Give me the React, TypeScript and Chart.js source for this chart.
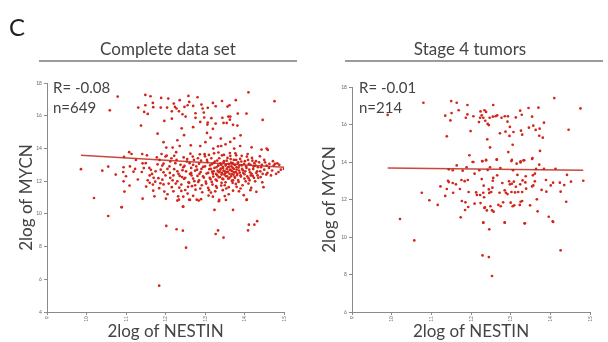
import React, { useEffect, useRef } from "react";
import { Chart, registerables } from "chart.js";
Chart.register(...registerables);

const FONT = "Lato, 'Noto Sans', sans-serif";

// ---------- Data ----------
const xAxisTicks = [9, 10, 11, 12, 13, 14, 15];
const completeYTicks = [4, 6, 8, 10, 12, 14, 16, 18];
const stage4YTicks = [6, 8, 10, 12, 14, 16, 18];

const panelTitles = ["Complete data set", "Stage 4 tumors"];
const statR = ["R= -0.08", "R= -0.01"];
const statN = ["n=649", "n=214"];

// regression line end points [NESTIN, MYCN]
const completeFit: [number, number][] = [[9.86, 13.58], [15.0, 12.85]];
const stage4Fit: [number, number][] = [[9.9, 13.68], [14.83, 13.56]];

// complete data set: [2log NESTIN, 2log MYCN]
const completeSet: [number, number][] = [
  [10.79, 17.17], [10.59, 16.33], [11.49, 17.27], [11.62, 17.19], [11.89, 17.09], [12.07, 17.05], [12.36, 16.95],
  [12.58, 17.21], [12.81, 17.13], [11.49, 16.64], [11.68, 16.78], [11.31, 16.5], [11.46, 16.23], [11.55, 16.11],
  [11.69, 16.52], [11.88, 16.5], [12.04, 16.5], [12.21, 16.74], [12.24, 16.54], [12.28, 16.44], [12.16, 16.27],
  [12.34, 16.27], [12.43, 16.09], [12.48, 16.54], [12.56, 16.64], [12.6, 16.84], [12.7, 16.6], [12.91, 16.68],
  [12.94, 16.44], [13.07, 16.48], [13.2, 16.78], [13.27, 16.58], [13.43, 16.9], [13.57, 16.56], [13.62, 16.64],
  [13.78, 16.95], [14.1, 17.43], [14.76, 16.89], [13.83, 16.13], [14.05, 16.13], [12.76, 16.15], [12.97, 16.19],
  [11.97, 15.68], [12.16, 15.82], [12.51, 15.95], [12.76, 15.87], [12.88, 15.62], [12.98, 15.89], [13.07, 15.58],
  [13.06, 15.46], [13.16, 15.85], [13.27, 15.52], [13.44, 15.87], [13.47, 15.56], [13.59, 15.95], [13.64, 15.95],
  [13.55, 15.56], [13.63, 15.76], [13.71, 15.44], [13.82, 15.4], [14.46, 15.74], [11.38, 15.4], [12.41, 15.23],
  [12.47, 14.81], [13.05, 14.95], [13.14, 14.66], [13.74, 14.62], [11.95, 14.38], [12.02, 14.05], [12.18, 14.05],
  [12.36, 14.15], [12.64, 14.19], [12.88, 14.15], [13.01, 14.38], [13.21, 13.99], [13.33, 14.13], [13.41, 14.15],
  [13.52, 14.25], [13.64, 14.4], [13.74, 13.99], [13.89, 14.15], [14.18, 14.07], [14.43, 13.93], [14.56, 13.99],
  [9.86, 12.73], [10.19, 10.97], [10.4, 12.64], [10.55, 12.89], [10.74, 12.4], [10.89, 10.42], [10.93, 12.56],
  [10.94, 12.85], [10.94, 11.99], [10.96, 11.36], [10.95, 13.48], [11.08, 13.77], [11.14, 13.66], [11.09, 11.73],
  [11.19, 12.58], [11.23, 12.75], [11.42, 13.09], [11.4, 12.56], [11.42, 10.93], [11.41, 13.66], [11.51, 11.67],
  [11.53, 13.58], [11.59, 12.81], [11.63, 12.69], [11.66, 12.44], [11.68, 11.79], [11.69, 11.42], [11.72, 11.07],
  [11.74, 11.97], [11.8, 13.03], [11.82, 12.18], [11.84, 11.57], [11.87, 11.87], [11.9, 13.66], [11.92, 12.09],
  [11.95, 13.07], [11.95, 12.54], [11.97, 11.36], [12.01, 10.93], [12.03, 13.56], [12.08, 11.85], [12.11, 12.5],
  [12.12, 12.2], [12.16, 11.63], [12.2, 11.38], [12.22, 12.73], [12.27, 13.77], [12.28, 13.3], [12.3, 11.99],
  [12.32, 11.07], [12.34, 10.87], [12.36, 12.32], [12.4, 11.79], [12.43, 12.67], [12.44, 10.44], [12.47, 12.14],
  [12.48, 12.93], [12.5, 11.46], [12.54, 13.2], [12.56, 11.24], [12.58, 11.93], [12.6, 10.87], [12.62, 12.44],
  [12.63, 13.68], [12.65, 12.81], [12.67, 11.69], [12.7, 12.16], [12.72, 13.3], [12.75, 12.64], [12.76, 11.48],
  [12.79, 10.87], [12.81, 12.32], [12.83, 11.95], [12.85, 13.07], [12.87, 13.64], [12.89, 12.56], [12.92, 11.75],
  [12.93, 11.32], [12.95, 12.87], [12.97, 12.22], [13.0, 13.52], [13.02, 11.97], [13.04, 12.46], [13.06, 13.17],
  [13.08, 11.59], [13.09, 11.12], [13.11, 12.73], [13.13, 12.97], [13.14, 12.12], [13.16, 13.4], [13.18, 12.58],
  [13.19, 11.79], [13.21, 12.28], [13.23, 13.11], [13.24, 12.81], [13.26, 11.38], [13.28, 12.44], [13.3, 12.03],
  [13.31, 13.26], [13.32, 12.64], [13.34, 12.95], [13.35, 12.24], [13.36, 10.85], [13.37, 12.56], [13.39, 13.09],
  [13.4, 12.77], [13.41, 11.73], [13.42, 12.4], [13.43, 13.58], [13.45, 12.87], [13.46, 12.12], [13.47, 12.64],
  [13.48, 13.22], [13.5, 11.09], [13.51, 12.48], [13.52, 11.93], [13.53, 13.01], [13.55, 12.75], [13.56, 12.3],
  [13.57, 13.42], [13.58, 12.58], [13.6, 11.63], [13.61, 12.89], [13.62, 12.2], [13.63, 13.72], [13.65, 12.67],
  [13.66, 13.13], [13.68, 12.42], [13.68, 12.03], [13.7, 12.81], [13.71, 11.42], [13.73, 13.3], [13.74, 12.54],
  [13.75, 12.26], [13.76, 12.99], [13.78, 11.83], [13.79, 13.58], [13.8, 12.71], [13.81, 12.36], [13.83, 13.11],
  [13.84, 12.07], [13.85, 12.83], [13.86, 11.38], [13.88, 12.52], [13.89, 13.36], [13.91, 12.28], [13.93, 12.97],
  [13.95, 11.75], [13.96, 12.66], [13.98, 11.14], [14.0, 12.42], [14.01, 13.22], [14.03, 11.99], [14.05, 12.81],
  [14.06, 10.87], [14.08, 13.66], [14.1, 12.18], [14.11, 13.05], [14.14, 12.54], [14.17, 11.59], [14.19, 13.42],
  [14.21, 12.32], [14.23, 12.89], [14.27, 11.99], [14.29, 13.22], [14.32, 12.6], [14.35, 12.2], [14.39, 13.52],
  [14.42, 12.85], [14.45, 11.93], [14.48, 11.63], [14.5, 13.3], [14.55, 12.4], [14.59, 13.91], [14.62, 12.81],
  [14.72, 13.22], [14.77, 13.05], [14.83, 13.09], [14.86, 12.56], [15.0, 12.75],
  [10.55, 9.87], [10.89, 10.4], [11.84, 5.61], [12.02, 9.26], [12.28, 9.06], [12.44, 8.97], [12.52, 7.93],
  [12.45, 10.44], [12.3, 10.81], [12.62, 10.85], [12.84, 10.81], [13.24, 10.24], [13.27, 8.77], [13.33, 8.99],
  [13.35, 10.77], [13.47, 8.55], [13.53, 10.85], [13.71, 10.24], [14.05, 10.85], [14.09, 8.99], [14.11, 9.34],
  [14.25, 9.34], [14.32, 9.55],
  [12.95, 12.3], [13.0, 12.9], [13.05, 13.3], [13.08, 12.5], [13.12, 12.2], [13.15, 12.75], [13.18, 13.05],
  [13.2, 12.45], [13.22, 12.6], [13.25, 13.2], [13.27, 12.1], [13.29, 12.85], [13.31, 12.35], [13.33, 12.95],
  [13.35, 12.55], [13.36, 13.4], [13.38, 12.25], [13.39, 12.7], [13.41, 13.0], [13.43, 12.5], [13.44, 12.15],
  [13.46, 12.8], [13.47, 13.15], [13.49, 12.4], [13.5, 12.6], [13.52, 12.95], [13.53, 12.3], [13.55, 13.25],
  [13.56, 12.55], [13.58, 12.85], [13.59, 12.15], [13.6, 13.05], [13.62, 12.45], [13.63, 12.7], [13.65, 13.35],
  [13.66, 12.3], [13.67, 12.9], [13.69, 12.6], [13.7, 13.1], [13.72, 12.4], [13.73, 12.75], [13.75, 13.0],
  [13.76, 12.2], [13.78, 12.55], [13.79, 13.3], [13.8, 12.85], [13.82, 12.45], [13.84, 13.15], [13.86, 12.65],
  [13.87, 12.95], [13.9, 12.35], [13.92, 13.2], [13.94, 12.75], [13.97, 12.5], [13.99, 13.05], [14.02, 12.6],
  [14.04, 12.9], [14.07, 12.3], [14.09, 13.3], [14.12, 12.7], [14.15, 13.0], [14.18, 12.45], [14.22, 12.75],
  [14.25, 13.1], [14.3, 12.5], [14.34, 12.85], [14.4, 12.6], [14.44, 13.0], [14.5, 12.7], [14.56, 12.95],
  [12.1, 12.9], [12.2, 12.35], [12.25, 13.1], [12.35, 11.6], [12.45, 12.85], [12.5, 12.2], [12.55, 13.35],
  [12.6, 11.9], [12.65, 12.5], [12.7, 13.0], [12.75, 11.75], [12.8, 12.7], [12.85, 12.05], [12.9, 13.25],
  [11.7, 12.2], [11.85, 13.3], [11.95, 11.8], [12.0, 12.35], [12.05, 11.2], [12.15, 13.4], [12.3, 12.6],
  [12.4, 11.4], [11.6, 11.9], [11.5, 13.1], [11.3, 12.1], [11.1, 12.9], [13.1, 11.45], [13.3, 11.6],
  [13.5, 11.75], [13.7, 11.9], [13.9, 11.55], [14.1, 11.85], [14.3, 11.35], [13.2, 11.05], [13.6, 11.2],
  [12.9, 10.9], [13.4, 14.6], [12.3, 14.5], [11.8, 14.9], [13.9, 14.8], [12.7, 15.3], [13.2, 15.2],
  [12.05, 12.75], [12.12, 13.2], [12.18, 12.05], [12.22, 13.55], [12.26, 11.85], [12.33, 12.45], [12.38, 13.0],
  [12.42, 12.25], [12.46, 13.45], [12.52, 12.6], [12.57, 11.65], [12.61, 13.1], [12.66, 12.35], [12.69, 13.5],
  [12.73, 12.0], [12.78, 12.9], [12.82, 13.4], [12.86, 12.45], [12.88, 11.55], [12.91, 12.75], [12.99, 13.65],
  [13.03, 11.85], [13.1, 13.6], [13.17, 11.95], [13.23, 13.7], [13.28, 11.7], [13.34, 13.75], [13.42, 11.9],
  [13.48, 13.6], [13.54, 11.55], [13.64, 13.55], [13.71, 12.05], [13.77, 13.7], [13.85, 11.95], [13.93, 13.55],
  [14.0, 12.15], [14.06, 13.5], [14.13, 12.05], [14.16, 12.35], [14.2, 13.25], [14.24, 12.2], [14.28, 12.95],
  [14.33, 12.35], [14.37, 13.15], [14.41, 12.25], [14.46, 12.45], [14.52, 13.15], [14.58, 12.5], [14.63, 13.05],
  [14.67, 12.35], [14.7, 12.65], [14.74, 12.95], [14.8, 12.45], [14.88, 13.0], [14.92, 12.7], [11.75, 12.6],
  [11.78, 13.45], [11.88, 12.7], [11.92, 12.95], [12.0, 13.5], [11.6, 12.35], [11.45, 12.8], [11.55, 12.05],
  [11.25, 13.3], [11.0, 12.3], [13.15, 11.3], [13.45, 11.45], [13.8, 11.65], [14.15, 11.45], [12.7, 11.1],
  [12.45, 11.05],
];

// stage 4 tumors: [2log NESTIN, 2log MYCN]
const stage4Set: [number, number][] = [
  [10.8, 17.16], [9.9, 16.51], [11.5, 17.25], [11.64, 17.16], [11.35, 16.47], [11.51, 16.61], [11.69, 16.76],
  [11.48, 16.22], [11.91, 17.04], [11.91, 16.54], [11.87, 16.36], [12.06, 16.44], [12.24, 16.7], [12.34, 16.76],
  [12.38, 16.67], [12.27, 16.49], [12.23, 16.36], [12.31, 16.36], [12.2, 16.13], [12.36, 16.2], [12.42, 16.03],
  [12.45, 15.97], [12.47, 16.36], [12.56, 17.04], [12.55, 16.42], [12.62, 16.44], [12.66, 16.49], [12.77, 16.36],
  [12.85, 16.44], [12.93, 16.44], [12.92, 16.15], [13.13, 16.38], [13.28, 16.52], [13.24, 16.74], [13.45, 16.88],
  [13.7, 16.9], [14.1, 17.41], [14.76, 16.86], [13.54, 16.42], [12.98, 15.87], [12.87, 15.62], [13.07, 15.6],
  [12.73, 15.53], [12.97, 15.39], [13.26, 15.67], [13.29, 15.46], [13.46, 15.83], [13.57, 15.94], [13.63, 15.71],
  [13.73, 15.78], [13.84, 16.1], [13.72, 15.4], [13.81, 15.3], [14.46, 15.72], [11.39, 15.37], [11.99, 15.65],
  [12.41, 15.21], [12.48, 14.78], [13.05, 14.92], [12.94, 14.53], [13.74, 14.59], [11.96, 14.36], [12.06, 14.0],
  [12.29, 14.04], [12.38, 14.11], [12.65, 14.14], [13.03, 14.11], [13.25, 14.04], [13.34, 14.09], [13.55, 14.21],
  [10.21, 10.96], [10.76, 12.36], [10.95, 11.96], [11.16, 11.71], [11.23, 12.7], [11.35, 12.19], [11.39, 12.56],
  [11.42, 13.0], [11.44, 12.93], [11.44, 13.61], [11.54, 13.56], [11.54, 12.88], [11.55, 12.36], [11.62, 12.81],
  [11.64, 13.82], [11.72, 12.56], [11.76, 13.04], [11.77, 11.92], [11.79, 13.54], [11.84, 12.98], [11.86, 11.85],
  [11.85, 11.44], [11.89, 13.72], [11.92, 13.04], [11.94, 12.4], [11.93, 11.6], [11.74, 11.05], [12.04, 14.0],
  [12.09, 13.38], [12.13, 12.38], [12.15, 12.24], [12.09, 11.78], [12.21, 13.56], [12.23, 12.24], [12.24, 11.81],
  [12.27, 13.09], [12.28, 14.05], [12.31, 12.36], [12.32, 12.74], [12.33, 12.12], [12.34, 11.55], [12.35, 11.58],
  [12.31, 10.78], [12.38, 14.09], [12.4, 11.42], [12.42, 13.58], [12.45, 12.54], [12.46, 12.35], [12.48, 13.72],
  [12.49, 11.64], [12.51, 12.4], [12.53, 11.42], [12.54, 12.63], [12.55, 13.0], [12.56, 13.15], [12.57, 11.35],
  [12.65, 14.12], [12.66, 13.29], [12.69, 11.71], [12.72, 12.36], [12.74, 13.68], [12.75, 11.64], [12.79, 12.88],
  [12.81, 11.85], [12.85, 12.49], [12.85, 10.78], [12.88, 12.36], [12.92, 12.29], [12.96, 12.97], [12.98, 12.81],
  [13.0, 11.83], [13.02, 14.05], [13.02, 12.4], [13.03, 12.84], [13.05, 11.64], [13.06, 13.56], [13.08, 12.95],
  [13.09, 11.69], [13.11, 12.38], [13.13, 12.68], [13.15, 13.91], [13.17, 13.31], [13.19, 12.4], [13.23, 11.71],
  [13.24, 12.81], [13.25, 13.98], [13.25, 11.88], [13.29, 11.92], [13.29, 12.4], [13.3, 13.02], [13.32, 14.09],
  [13.35, 10.73], [13.37, 12.91], [13.38, 13.24], [13.39, 12.58], [13.49, 11.69], [13.54, 14.16], [13.54, 12.7],
  [13.56, 13.29], [13.57, 12.75], [13.61, 13.38], [13.61, 12.97], [13.64, 13.63], [13.66, 12.01], [13.68, 11.37],
  [13.72, 13.86], [13.78, 12.51], [13.84, 13.63], [13.89, 13.04], [13.9, 12.42], [13.96, 11.08], [14.01, 12.75],
  [14.06, 10.84], [14.07, 12.9], [14.13, 13.64], [14.24, 12.9], [14.26, 12.42], [14.35, 12.77], [14.4, 11.88],
  [14.42, 13.31], [14.52, 12.95], [14.83, 13.0],
  [10.57, 9.82], [12.29, 9.02], [12.45, 8.93], [12.53, 7.92], [12.46, 10.41], [12.31, 10.76], [12.85, 10.76],
  [13.36, 10.73], [14.07, 10.8], [14.26, 9.29],
];

// ---------- Chart ----------
const POINT_COLOR = "#d2261a";
const FIT_COLOR = "rgba(192, 40, 28, 0.85)";
const AXIS_COLOR = "#8a8a8a";
const TEXT_COLOR = "#444444";

type PanelCfg = {
  points: [number, number][];
  fit: [number, number][];
  yTicks: number[];
  yAxisWidth: number;
  yTitlePad: number;
  padRight: number;
  padTop: number;
  title: string;
  titleX: number;
  lineX1: number;
  lineX2: number;
  r: string;
  n: string;
  rX: number;
  letter?: string;
};

function makeDecor(cfg: PanelCfg) {
  return {
    id: "panelDecor",
    afterDraw(chart: any) {
      const ctx = chart.ctx;
      ctx.save();
      if (cfg.letter) {
        ctx.font = `24px ${FONT}`;
        ctx.fillStyle = "#222";
        ctx.textAlign = "left";
        ctx.textBaseline = "alphabetic";
        ctx.fillText(cfg.letter, 9, 36);
      }
      ctx.font = `17px ${FONT}`;
      ctx.fillStyle = TEXT_COLOR;
      ctx.textAlign = "center";
      ctx.textBaseline = "alphabetic";
      ctx.fillText(cfg.title, cfg.titleX, 55);
      ctx.strokeStyle = "#7a7a7a";
      ctx.lineWidth = 1.5;
      ctx.beginPath();
      ctx.moveTo(cfg.lineX1, 61);
      ctx.lineTo(cfg.lineX2, 61);
      ctx.stroke();
      ctx.font = `15px ${FONT}`;
      ctx.textAlign = "left";
      ctx.fillText(cfg.r, cfg.rX, 93);
      ctx.fillText(cfg.n, cfg.rX, 113);
      ctx.restore();
    },
  };
}

function Panel({ cfg, left }: { cfg: PanelCfg; left: number }) {
  const ref = useRef<HTMLCanvasElement>(null);
  useEffect(() => {
    if (!ref.current) return;
    const yMin = cfg.yTicks[0];
    const yMax = cfg.yTicks[cfg.yTicks.length - 1];
    const chart = new Chart(ref.current, {
      type: "scatter",
      data: {
        datasets: [
          {
            data: cfg.points.map(([x, y]) => ({ x, y })),
            backgroundColor: POINT_COLOR,
            borderWidth: 0,
            pointRadius: 1.35,
            order: 2,
          },
          {
            type: "line",
            data: cfg.fit.map(([x, y]) => ({ x, y })),
            borderColor: FIT_COLOR,
            borderWidth: 1.5,
            pointRadius: 0,
            showLine: true,
            order: 1,
          } as any,
        ],
      },
      options: {
        responsive: false,
        animation: false,
        devicePixelRatio: 1,
        layout: { padding: { top: cfg.padTop, right: cfg.padRight, left: 0, bottom: 0 } },
        plugins: { legend: { display: false }, tooltip: { enabled: false }, title: { display: false } },
        scales: {
          x: {
            type: "linear",
            min: xAxisTicks[0],
            max: xAxisTicks[xAxisTicks.length - 1],
            afterBuildTicks: (s: any) => {
              s.ticks = xAxisTicks.map((v) => ({ value: v }));
            },
            afterFit: (s: any) => {
              s.height = 30;
            },
            grid: { display: true, drawOnChartArea: false, drawTicks: true, tickLength: 3, color: AXIS_COLOR },
            border: { display: true, color: AXIS_COLOR, width: 1 },
            ticks: {
              autoSkip: false,
              minRotation: 90,
              maxRotation: 90,
              padding: 1,
              color: "#666",
              font: { size: 5, family: FONT },
            },
            title: {
              display: true,
              text: "2log of NESTIN",
              color: TEXT_COLOR,
              font: { size: 17, family: FONT },
              padding: { top: 0, bottom: 0 },
            },
          },
          y: {
            type: "linear",
            min: yMin,
            max: yMax,
            afterBuildTicks: (s: any) => {
              s.ticks = cfg.yTicks.map((v) => ({ value: v }));
            },
            afterFit: (s: any) => {
              s.width = cfg.yAxisWidth;
            },
            grid: { display: true, drawOnChartArea: false, drawTicks: true, tickLength: 3, color: AXIS_COLOR },
            border: { display: true, color: AXIS_COLOR, width: 1 },
            ticks: {
              autoSkip: false,
              padding: 2,
              color: "#666",
              font: { size: 5, family: FONT },
            },
            title: {
              display: true,
              text: "2log of MYCN",
              color: TEXT_COLOR,
              font: { size: 17, family: FONT },
              padding: { top: cfg.yTitlePad, bottom: 0 },
            },
          },
        },
      },
      plugins: [makeDecor(cfg)],
    });
    return () => chart.destroy();
  }, [cfg]);
  return (
    <canvas
      ref={ref}
      width={304}
      height={342}
      style={{ position: "absolute", left, top: 0, width: 304, height: 342 }}
    />
  );
}

const leftCfg: PanelCfg = {
  points: completeSet,
  fit: completeFit,
  yTicks: completeYTicks,
  yAxisWidth: 47,
  yTitlePad: 16,
  padRight: 20,
  padTop: 83,
  title: panelTitles[0],
  titleX: 168,
  lineX1: 39,
  lineX2: 297,
  r: statR[0],
  n: statN[0],
  rX: 53,
  letter: "C",
};

const rightCfg: PanelCfg = {
  points: stage4Set,
  fit: stage4Fit,
  yTicks: stage4YTicks,
  yAxisWidth: 48,
  yTitlePad: 15,
  padRight: 18,
  padTop: 87,
  title: panelTitles[1],
  titleX: 166,
  lineX1: 41,
  lineX2: 299,
  r: statR[1],
  n: statN[1],
  rX: 55,
};

export default function App() {
  return (
    <div style={{ position: "absolute", left: 0, top: 0, width: 608, height: 342, background: "#fff", overflow: "hidden" }}>
      <Panel cfg={leftCfg} left={0} />
      <Panel cfg={rightCfg} left={304} />
    </div>
  );
}
